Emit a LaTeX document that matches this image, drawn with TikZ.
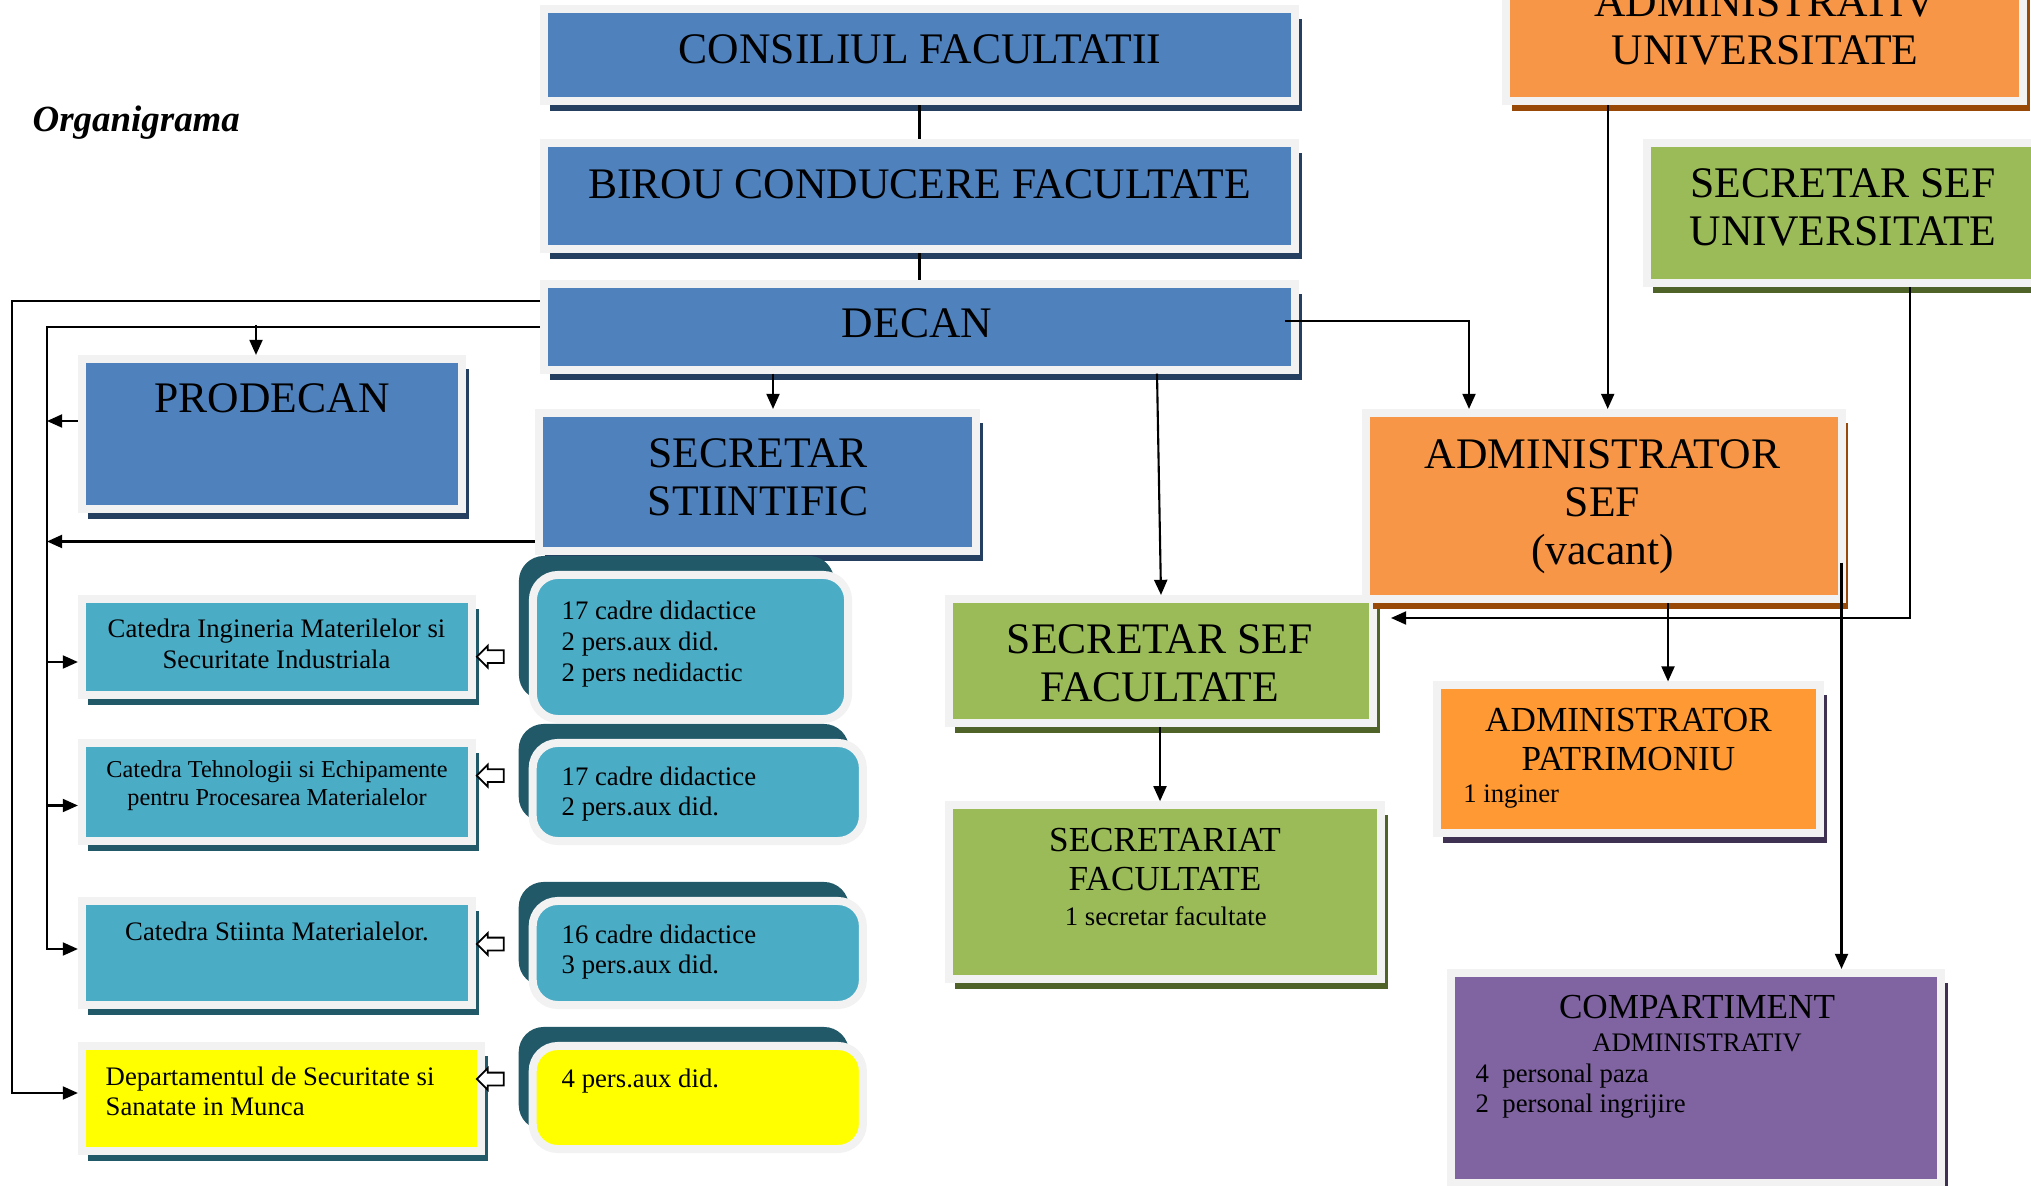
\documentclass[tikz,border=0pt]{standalone}
\usepackage{fontspec}
\setmainfont{Liberation Serif}
\usetikzlibrary{arrows.meta,shadows,shapes.arrows}
\definecolor{framegray}{HTML}{F2F2F2}
\definecolor{cblue}{HTML}{4F81BD}
\definecolor{sblue}{HTML}{243F60}
\definecolor{cteal}{HTML}{4BACC6}
\definecolor{steal}{HTML}{215968}
\definecolor{cgreen}{HTML}{9BBB59}
\definecolor{sgreen}{HTML}{4F6228}
\definecolor{corange}{HTML}{F79646}
\definecolor{sorange}{HTML}{984807}
\definecolor{cpatr}{HTML}{FF9933}
\definecolor{cpurple}{HTML}{8064A2}
\definecolor{spurple}{HTML}{3F3151}
\definecolor{cyellow}{HTML}{FFFF00}
\tikzset{
  box/.style 2 args={draw=framegray, line width=0.08cm, fill=#1, inner sep=0pt,
    drop shadow={shadow xshift=0.065cm, shadow yshift=-0.1cm, fill=#2, opacity=1}},
  cntbox/.style={draw=framegray, line width=0.08cm, fill=#1, inner sep=0pt,
    rounded corners=0.25cm,
    general shadow={shadow xshift=-0.14cm, shadow yshift=0.19cm, fill=steal}},
  bigtext/.style={font=\fontsize{12.4}{13.6}\selectfont, align=center, inner sep=0pt},
  midtext/.style={font=\fontsize{10}{11.3}\selectfont, align=center, inner sep=0pt},
  smalltext/.style={font=\fontsize{7.6}{8.7}\selectfont, align=center, inner sep=0pt},
  link/.style={line width=0.6pt},
  arr/.style={line width=0.6pt, -{Triangle[length=4.3pt,width=3.7pt]}},
  blockarr/.style={single arrow, draw, line width=0.5pt, fill=white,
    inner xsep=0pt, inner ysep=0.055cm, minimum height=0.27cm,
    single arrow head extend=0.045cm, shape border rotate=180}
}
\begin{document}
\begin{tikzpicture}[x=0.01cm,y=-0.01cm]
\useasboundingbox (0,0) rectangle (2031,1186);

% faculty boxes
\node[box={cblue}{sblue}, minimum width=7.51cm, minimum height=0.92cm] (consiliul) at (919.5,55) {};
\node[box={cblue}{sblue}, minimum width=7.51cm, minimum height=1.06cm] (birou) at (919.5,196) {};
\node[box={cblue}{sblue}, minimum width=7.51cm, minimum height=0.855cm] (decan) at (919.5,326.75) {};
\node[box={cblue}{sblue}, minimum width=3.80cm, minimum height=1.50cm] (prodecan) at (272,434) {};
\node[box={cblue}{sblue}, minimum width=4.37cm, minimum height=1.38cm] (secstiint) at (757.5,482) {};

% catedre
\node[box={cteal}{steal}, minimum width=3.90cm, minimum height=0.96cm] (cat1) at (277,647) {};
\node[box={cteal}{steal}, minimum width=3.90cm, minimum height=0.98cm] (cat2) at (277,792) {};
\node[box={cteal}{steal}, minimum width=3.90cm, minimum height=1.03cm] (cat3) at (277,953) {};
\node[box={cyellow}{steal}, minimum width=3.99cm, minimum height=1.05cm] (dept) at (281.5,1098.5) {};

% personal
\node[cntbox=cteal, minimum width=3.15cm, minimum height=1.44cm] (pers1) at (690.5,647) {};
\node[cntbox=cteal, minimum width=3.30cm, minimum height=0.98cm] (pers2) at (697.8,792) {};
\node[cntbox=cteal, minimum width=3.30cm, minimum height=1.04cm] (pers3) at (697.8,953) {};
\node[cntbox=cyellow, minimum width=3.30cm, minimum height=1.03cm] (pers4) at (697.8,1097.5) {};

% secretariat
\node[box={cgreen}{sgreen}, minimum width=4.24cm, minimum height=1.24cm] (ssf) at (1161,661) {};
\node[box={cgreen}{sgreen}, minimum width=4.325cm, minimum height=1.735cm] (secretariat) at (1165,892) {};

% administrativ
\node[box={corange}{sorange}, minimum width=5.17cm, minimum height=1.50cm] (adminuniv) at (1764.5,26) {};
\node[box={cgreen}{sgreen}, minimum width=3.92cm, minimum height=1.404cm] (ssu) at (1843,213) {};
\node[box={corange}{sorange}, minimum width=4.756cm, minimum height=1.86cm] (adminsef) at (1604,506) {};
\node[box={cpatr}{spurple}, minimum width=3.83cm, minimum height=1.47cm] (adminpatr) at (1628.5,759) {};
\node[box={cpurple}{spurple}, minimum width=4.90cm, minimum height=2.10cm] (compart) at (1696,1078) {};

% texts
\node[font=\fontsize{10.5}{12}\selectfont\bfseries\itshape, inner sep=0pt, anchor=west] (title) at (32,123) {Organigrama};
\node[bigtext] (tconsiliul) at (920,49) {CONSILIUL FACULTATII};
\node[bigtext] (tbirou) at (919.5,184) {BIROU CONDUCERE FACULTATE};
\node[bigtext] (tdecan) at (917,323) {DECAN};
\node[bigtext] (tprodecan) at (272,398) {PRODECAN};
\node[bigtext] (tsecstiint) at (758,477) {SECRETAR\\STIINTIFIC};
\node[smalltext] (tcat1) at (276.5,644) {Catedra Ingineria Materilelor si\\Securitate Industriala};
\node[smalltext, font=\fontsize{6.9}{8}\selectfont] (tcat2) at (277,786) {Catedra Tehnologii si Echipamente\\pentru Procesarea Materialelor};
\node[smalltext] (tcat3) at (277,931) {Catedra Stiinta Materialelor.};
\node[smalltext, align=left, anchor=west] (tdept) at (105,1091.5) {Departamentul de Securitate si\\Sanatate in Munca};
\node[smalltext, align=left, anchor=west] (tpers1) at (561,644) {17 cadre didactice\\2 pers.aux did.\\2 pers nedidactic};
\node[smalltext, align=left, anchor=west] (tpers2) at (561,794) {17 cadre didactice\\2 pers.aux did.};
\node[smalltext, align=left, anchor=west] (tpers3) at (561,952) {16 cadre didactice\\3 pers.aux did.};
\node[smalltext, align=left, anchor=west] (tpers4) at (561,1081) {4 pers.aux did.};
\node[bigtext] (tssf) at (1159.7,663) {SECRETAR SEF\\FACULTATE};
\node[midtext] (tsecretariat) at (1165,859.5) {SECRETARIAT\\FACULTATE};
\node[smalltext] (tsecretar) at (1165.8,916) {1 secretar facultate};
\node[bigtext] (tadminuniv) at (1765,26) {ADMINISTRATIV\\UNIVERSITATE};
\node[bigtext] (tssu) at (1843,207.6) {SECRETAR SEF\\UNIVERSITATE};
\node[bigtext] (tadminsef) at (1602.5,507) {ADMINISTRATOR\\SEF\\(vacant)};
\node[midtext] (tadminpatr) at (1628.5,739.6) {ADMINISTRATOR\\PATRIMONIU};
\node[smalltext, anchor=west] (tinginer) at (1462.6,797) {1 inginer};
\node[midtext] (tcompart) at (1697,1007) {COMPARTIMENT};
\node[smalltext] (tcompart2) at (1697,1043) {ADMINISTRATIV};
\node[smalltext, align=left, anchor=west] (tcompart3) at (1475,1091) {4~~personal paza\\2~~personal ingrijire};

% guides
\coordinate (bus) at (47,0);
\coordinate (xss) at (773,0);
\coordinate (xssf) at (1157,0);
\coordinate (xsec) at (1160,0);
\coordinate (decr) at (1285,321);
\coordinate (xadm) at (1469,0);
\coordinate (xau) at (1607.7,0);
\coordinate (xsu) at (1910,0);
\coordinate (ssftip) at (1391,618);
\coordinate (xap) at (1668,0);
\coordinate (admtap) at (1841.5,562.6);
\coordinate (tapp) at (256,325);
\coordinate (yp) at (0,421);
\coordinate (ys) at (0,541.5);
\coordinate (yc1) at (0,662);
\coordinate (yc2) at (0,805.5);

% connectors
\draw[link] (consiliul.south) -- (birou.north);
\draw[link] (birou.south) -- (decan.north);
\draw[arr] (decan.south -| xss) -- (secstiint.north -| xss);
\draw[arr] (decan.south -| xssf) -- (ssf.north);
\draw[arr] (ssf.south -| xsec) -- (secretariat.north -| xsec);
\draw[arr] (decr) -| (adminsef.north -| xadm);
\draw[arr] (adminuniv.south -| xau) -- (adminsef.north -| xau);
\draw[arr] (ssu.south -| xsu) |- (ssftip);
\draw[arr] (adminsef.south -| xap) -- (adminpatr.north -| xap);
\draw[arr] (admtap) -- (compart.north -| admtap);

\draw[arr] ([yshift=0.26cm]decan.west) -- ++(-528,0) |- ([yshift=0.055cm]dept.west);
\draw[arr] (decan.west) -- ++(-493,0) |- ([yshift=0.04cm]cat3.west);
\draw[arr] (tapp) -- (prodecan.north -| tapp);
\draw[arr] (prodecan.west |- yp) -- (bus |- yp);
\draw[arr] (secstiint.west |- ys) -- (bus |- ys);
\draw[arr] (bus |- yc1) -- (cat1.west |- yc1);
\draw[arr] (bus |- yc2) -- (cat2.west |- yc2);

\node[blockarr] (ba1) at (493.5,656.7) {};
\node[blockarr] (ba2) at (493.5,775.6) {};
\node[blockarr] (ba3) at (493.5,944) {};
\node[blockarr] (ba4) at (493.5,1079) {};
\end{tikzpicture}
\end{document}
